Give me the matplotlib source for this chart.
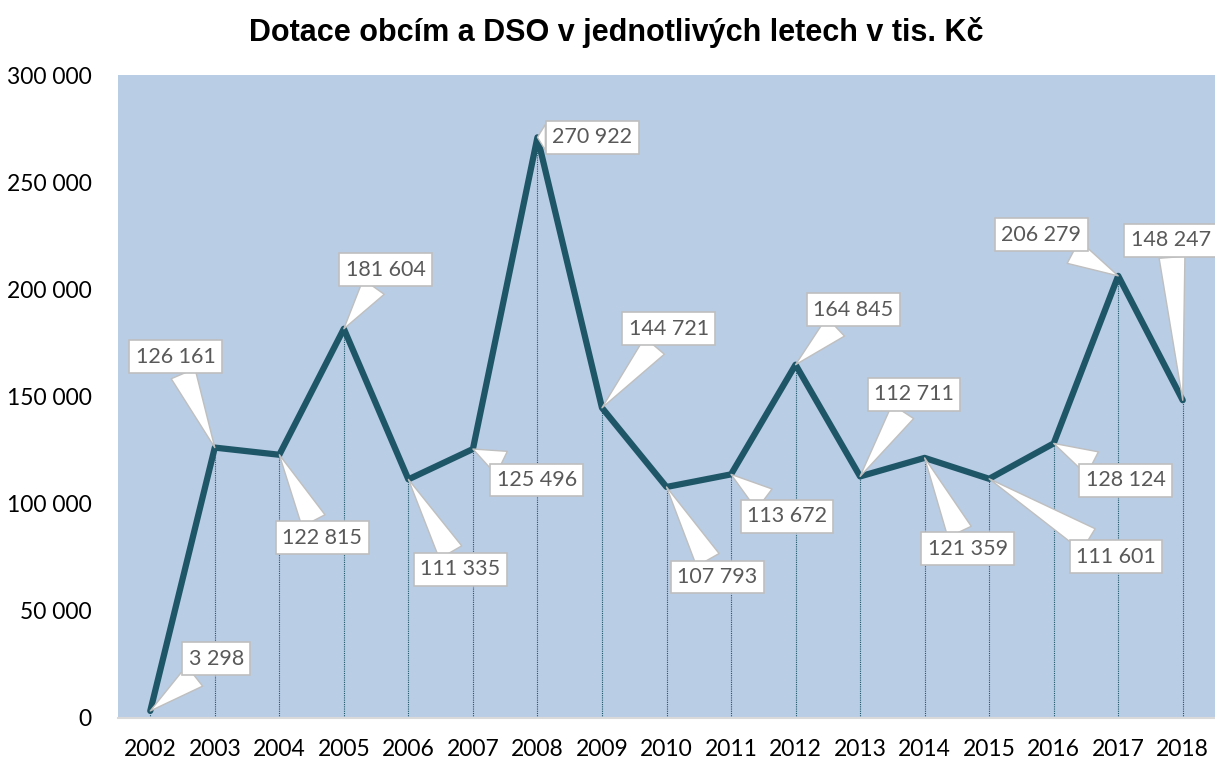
import matplotlib
matplotlib.use("Agg")
import matplotlib.pyplot as plt
import numpy as np

years = ["2002", "2003", "2004", "2005", "2006", "2007", "2008", "2009", "2010",
         "2011", "2012", "2013", "2014", "2015", "2016", "2017", "2018"]
values = [3298, 126161, 122815, 181604, 111335, 125496, 270922, 144721, 107793,
          113672, 164845, 112711, 121359, 111601, 128124, 206279, 148247]
# callout offsets in pixels (dx, dy) from the point
offsets = [(66, 52), (-39, 91), (43, -83), (42, 59), (52, -90), (64, -31), (55, 0),
           (67, 79), (51, -90), (56, -42), (58, 55), (54, 82), (43, -91),
           (127, -78), (72, -37), (-77, 41), (-12, 160)]
yticks = [0, 50000, 100000, 150000, 200000, 250000, 300000]

line_col = "#1e5668"
bg_col = "#b9cde5"

fig = plt.figure(figsize=(12.15, 7.6), dpi=100)
ax = fig.add_axes([118 / 1215, 1 - 718 / 760, 1 - 118 / 1215, (718 - 75) / 760])
ax.set_facecolor(bg_col)

x = np.arange(len(years))
ax.vlines(x, 0, values, colors=line_col, linestyles=(0, (1, 1)), linewidth=0.8, zorder=2)
ax.plot(x, values, color=line_col, linewidth=4.5, solid_joinstyle="round",
        solid_capstyle="round", zorder=3)

for i, v in enumerate(values):
    lbl = f"{v:,}".replace(",", " ")
    ax.annotate(lbl, xy=(i, v), xytext=offsets[i], textcoords="offset pixels",
                ha="center", va="center", fontsize=15.5, color="#595959", family="Lato",
                bbox=dict(boxstyle="square,pad=0.3", fc="white", ec="#bfbfbf", lw=1.2),
                arrowprops=dict(arrowstyle="wedge,tail_width=1.2,shrink_factor=0.5",
                                fc="white", ec="#bfbfbf", lw=1.0, shrinkB=0, shrinkA=0),
                zorder=5, annotation_clip=False)

ax.set_xlim(-0.5, len(years) - 0.5)
ax.set_ylim(0, 300000)
ax.set_xticks(x)
ax.set_xticklabels(years)
ax.set_yticks(yticks)
ax.set_yticklabels([f"{t:,}".replace(",", " ") for t in yticks])
ax.tick_params(length=0, labelsize=16.5, labelcolor="black")
ax.tick_params(axis="x", pad=15)
ax.tick_params(axis="y", pad=19)
for lab in ax.get_xticklabels() + ax.get_yticklabels():
    lab.set_family("Lato")
for s in ["top", "right", "left"]:
    ax.spines[s].set_visible(False)
ax.spines["bottom"].set_color("#d9d9d9")
ax.spines["bottom"].set_linewidth(1.5)

fig.text(0.507, 1 - 32 / 760, "Dotace obcím a DSO v jednotlivých letech v tis. Kč",
         ha="center", va="center", fontsize=22, fontweight="bold",
         family="Liberation Sans")

fig.savefig("out.png", dpi=100)
